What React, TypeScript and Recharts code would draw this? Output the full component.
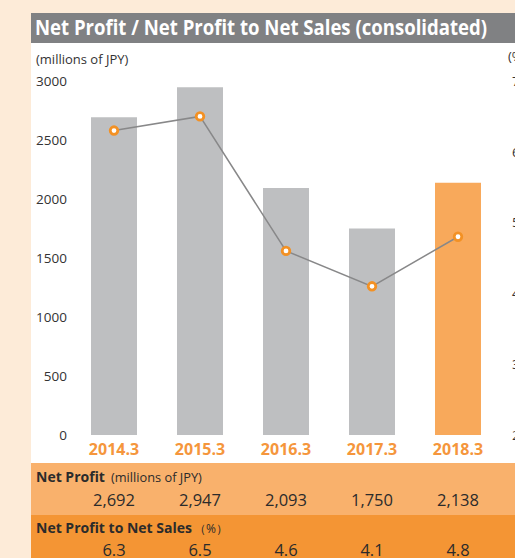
import { Bar, Cell, ComposedChart, Line, XAxis, YAxis } from 'recharts'

const categories = ['2014.3', '2015.3', '2016.3', '2017.3', '2018.3']
const netProfit = [2692, 2947, 2093, 1750, 2138]
const profitRatio = [6.3, 6.5, 4.6, 4.1, 4.8]
const leftTicks = [0, 500, 1000, 1500, 2000, 2500, 3000]
const rightTicks = [2, 3, 4, 5, 6, 7]

const FONT = '"Open Sans", "Noto Sans", sans-serif'
const GRAY_BAR = '#bebfc1'
const ORANGE_BAR = '#f8a95b'
const ORANGE = '#f39124'
const ORANGE_TEXT = '#f5963c'

// plot area lives between x 71..501, so the category centres are here
const PLOT_LEFT = 71
const PLOT_RIGHT = 501
const band = (PLOT_RIGHT - PLOT_LEFT) / categories.length
const centers = categories.map((_, i) => PLOT_LEFT + band * (i + 0.5))

const data = categories.map((name, i) => ({
  name,
  profit: netProfit[i],
  pct: profitRatio[i],
}))

function RingDot(props: any) {
  const { cx, cy, index } = props
  if (cx == null || cy == null) return null
  return <circle key={index} cx={cx} cy={cy} r={3.8} fill="#fff" stroke={ORANGE} strokeWidth={2.8} />
}

export default function App() {
  return (
    <div
      style={{
        position: 'absolute',
        left: 0,
        top: 0,
        width: 515,
        height: 558,
        overflow: 'hidden',
        background: '#fdebd8',
        fontFamily: FONT,
      }}
    >
      <div style={{ position: 'absolute', left: 31, top: 13, width: 484, height: 545, background: '#fff' }} />
      <svg style={{ position: 'absolute', left: 0, top: 0 }} width={515} height={48}>
        <rect x={31} y={13} width={484} height={30} fill="#808183" />
        <text
          x={35}
          y={35}
          fill="#fff"
          fontFamily={FONT}
          fontWeight={700}
          fontSize={20.5}
          textLength={452}
          lengthAdjust="spacingAndGlyphs"
        >
          Net Profit / Net Profit to Net Sales (consolidated)
        </text>
      </svg>
      <div style={{ position: 'absolute', left: 36, top: 50, fontSize: 13, color: '#333' }}>(millions of JPY)</div>
      <div style={{ position: 'absolute', left: 508, top: 47, fontSize: 13, color: '#333' }}>(%)</div>

      <div style={{ position: 'absolute', left: 0, top: 0 }}>
        <ComposedChart
          width={515}
          height={463}
          data={data}
          margin={{ top: 81, right: 0, left: 31, bottom: 0 }}
          barCategoryGap={0}
        >
          <XAxis
            dataKey="name"
            axisLine={false}
            tickLine={false}
            tickSize={0}
            tickMargin={9}
            height={28}
            interval={0}
            tick={{ fill: ORANGE_TEXT, fontSize: 16, fontWeight: 700, fontFamily: FONT }}
          />
          <YAxis
            yAxisId="left"
            domain={[0, 3000]}
            ticks={leftTicks}
            axisLine={false}
            tickLine={false}
            tickSize={0}
            tickMargin={4}
            width={40}
            tick={{ fill: '#333', fontSize: 13.5, fontFamily: FONT }}
          />
          <YAxis
            yAxisId="right"
            orientation="right"
            domain={[2, 7]}
            ticks={rightTicks}
            axisLine={false}
            tickLine={false}
            tickSize={0}
            tickMargin={11}
            width={14}
            tick={{ fill: '#333', fontSize: 13.5, fontFamily: FONT }}
          />
          <Bar yAxisId="left" dataKey="profit" barSize={46} isAnimationActive={false}>
            {data.map((_, i) => (
              <Cell key={i} fill={i === data.length - 1 ? ORANGE_BAR : GRAY_BAR} />
            ))}
          </Bar>
          <Line
            yAxisId="right"
            dataKey="pct"
            type="linear"
            stroke="#888889"
            strokeWidth={1.5}
            dot={<RingDot />}
            activeDot={false}
            isAnimationActive={false}
          />
        </ComposedChart>
      </div>

      {/* table under the chart */}
      <div style={{ position: 'absolute', left: 31, top: 463, width: 484, height: 52, background: '#f9b16c' }} />
      <div style={{ position: 'absolute', left: 31, top: 515, width: 484, height: 43, background: '#f49534' }} />
      <div style={{ position: 'absolute', left: 36, top: 465, color: '#2b2b2b', whiteSpace: 'nowrap' }}>
        <span style={{ fontSize: 14, fontWeight: 700 }}>Net Profit</span>
        <span style={{ fontSize: 12.8, marginLeft: 6 }}>(millions of JPY)</span>
      </div>
      <div style={{ position: 'absolute', left: 36, top: 516, color: '#2b2b2b', whiteSpace: 'nowrap' }}>
        <span style={{ fontSize: 14, fontWeight: 700 }}>Net Profit to Net Sales</span>
        <span style={{ fontSize: 12, marginLeft: 2 }}>（%）</span>
      </div>
      {netProfit.map((v, i) => (
        <div
          key={categories[i]}
          style={{
            position: 'absolute',
            left: centers[i] - 40,
            width: 80,
            top: 488,
            textAlign: 'center',
            fontSize: 16.5,
            color: '#2b2b2b',
          }}
        >
          {v.toLocaleString('en-US')}
        </div>
      ))}
      {profitRatio.map((v, i) => (
        <div
          key={categories[i]}
          style={{
            position: 'absolute',
            left: centers[i] - 40,
            width: 80,
            top: 538,
            textAlign: 'center',
            fontSize: 16.5,
            color: '#2b2b2b',
          }}
        >
          {v.toFixed(1)}
        </div>
      ))}
    </div>
  )
}
